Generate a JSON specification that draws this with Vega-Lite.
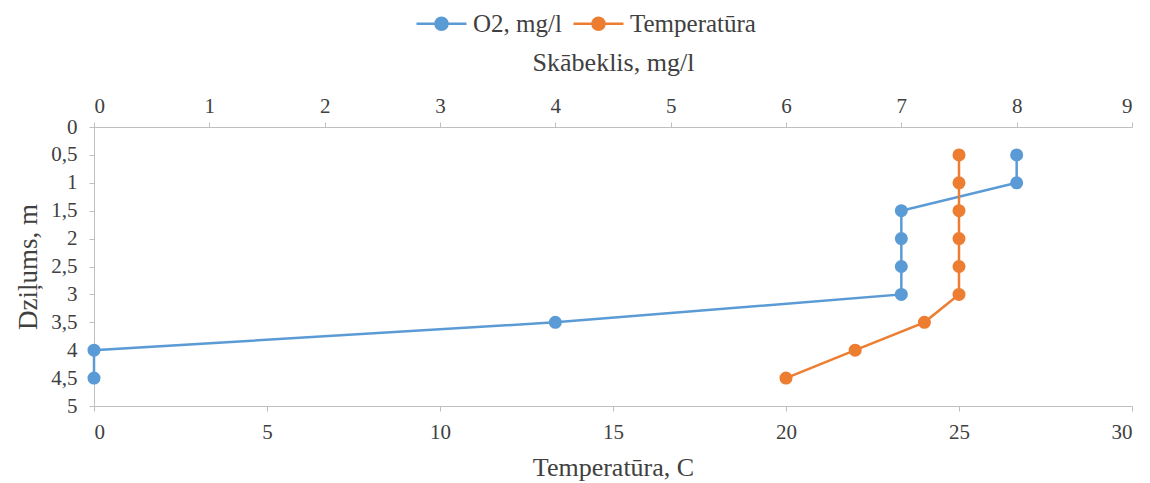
{
  "$schema": "https://vega.github.io/schema/vega-lite/v6.json",
  "autosize": {"type": "none"},
  "padding": {"left": 94, "top": 127, "right": 18, "bottom": 77},
  "width": 1038,
  "height": 279,
  "config": {
    "font": "Liberation Serif",
    "view": {"stroke": null},
    "axis": {
      "labelFont": "Liberation Serif", "titleFont": "Liberation Serif",
      "labelFontSize": 21, "titleFontSize": 26, "titleFontWeight": "normal",
      "labelColor": "#404040", "titleColor": "#404040",
      "domainColor": "#bfbfbf", "tickColor": "#bfbfbf", "tickSize": 5,
      "grid": false
    },
    "legend": {"labelFont": "Liberation Serif", "labelFontSize": 25, "labelColor": "#404040"}
  },
  "data": {
    "values": [
      {"depth": 0.5, "series": "O2, mg/l", "value": 8},
      {"depth": 1, "series": "O2, mg/l", "value": 8},
      {"depth": 1.5, "series": "O2, mg/l", "value": 7},
      {"depth": 2, "series": "O2, mg/l", "value": 7},
      {"depth": 2.5, "series": "O2, mg/l", "value": 7},
      {"depth": 3, "series": "O2, mg/l", "value": 7},
      {"depth": 3.5, "series": "O2, mg/l", "value": 4},
      {"depth": 4, "series": "O2, mg/l", "value": 0},
      {"depth": 4.5, "series": "O2, mg/l", "value": 0},
      {"depth": 0.5, "series": "Temperatūra", "value": 25},
      {"depth": 1, "series": "Temperatūra", "value": 25},
      {"depth": 1.5, "series": "Temperatūra", "value": 25},
      {"depth": 2, "series": "Temperatūra", "value": 25},
      {"depth": 2.5, "series": "Temperatūra", "value": 25},
      {"depth": 3, "series": "Temperatūra", "value": 25},
      {"depth": 3.5, "series": "Temperatūra", "value": 24},
      {"depth": 4, "series": "Temperatūra", "value": 22},
      {"depth": 4.5, "series": "Temperatūra", "value": 20}
    ]
  },
  "encoding": {
    "y": {
      "field": "depth", "type": "quantitative",
      "scale": {"domain": [0, 5], "reverse": true, "nice": false},
      "axis": {"values": [0, 0.5, 1, 1.5, 2, 2.5, 3, 3.5, 4, 4.5, 5], "labelExpr": "replace(format(datum.value, '~g'), '.', ',')", "title": "Dziļums, m", "titleFontSize": 27, "titlePadding": 8, "labelPadding": 12, "labelFont": "Liberation Serif", "labelFontSize": 21, "labelColor": "#404040", "titleFont": "Liberation Serif"}
    },
    "color": {
      "field": "series", "type": "nominal",
      "scale": {"domain": ["O2, mg/l", "Temperatūra"], "range": ["#5b9bd5", "#ed7d31"]},
      "legend": {
        "title": null, "orient": "none", "legendX": 321, "legendY": -130, "direction": "horizontal",
        "symbolType": "M-1,0L-0.24,0M0.24,0L1,0M-0.24,0A0.24,0.24 0 1,1 0.24,0A0.24,0.24 0 1,1 -0.24,0Z",
        "symbolSize": 2500, "symbolStrokeWidth": 2.5, "columnPadding": 6, "labelOffset": 5,
        "encode": {"symbols": {"update": {"fill": {"scale": "color", "field": "value"}, "fillOpacity": {"value": 1}}}}
      }
    },
    "order": {"field": "depth", "type": "quantitative"}
  },
  "layer": [
    {
      "transform": [{"filter": "datum.series === 'O2, mg/l'"}],
      "mark": {"type": "line", "strokeWidth": 2.5, "point": {"size": 170, "filled": true, "opacity": 1}},
      "encoding": {
        "x": {
          "field": "value", "type": "quantitative",
          "scale": {"domain": [0, 9], "nice": false},
          "axis": {"orient": "top", "values": [0,1,2,3,4,5,6,7,8,9], "title": "Skābeklis, mg/l", "titlePadding": 20, "labelPadding": 6, "labelFont": "Liberation Serif", "labelFontSize": 21, "labelColor": "#404040", "titleFont": "Liberation Serif"}
        }
      }
    },
    {
      "transform": [{"filter": "datum.series === 'Temperatūra'"}],
      "mark": {"type": "line", "strokeWidth": 2.5, "point": {"size": 170, "filled": true, "opacity": 1}},
      "encoding": {
        "x": {
          "field": "value", "type": "quantitative",
          "scale": {"domain": [0, 30], "nice": false},
          "axis": {"orient": "bottom", "values": [0,5,10,15,20,25,30], "title": "Temperatūra, C", "titlePadding": 12, "labelPadding": 10, "labelFont": "Liberation Serif", "labelFontSize": 21, "labelColor": "#404040", "titleFont": "Liberation Serif"}
        }
      }
    }
  ],
  "resolve": {"scale": {"x": "independent"}, "axis": {"x": "independent"}}
}
